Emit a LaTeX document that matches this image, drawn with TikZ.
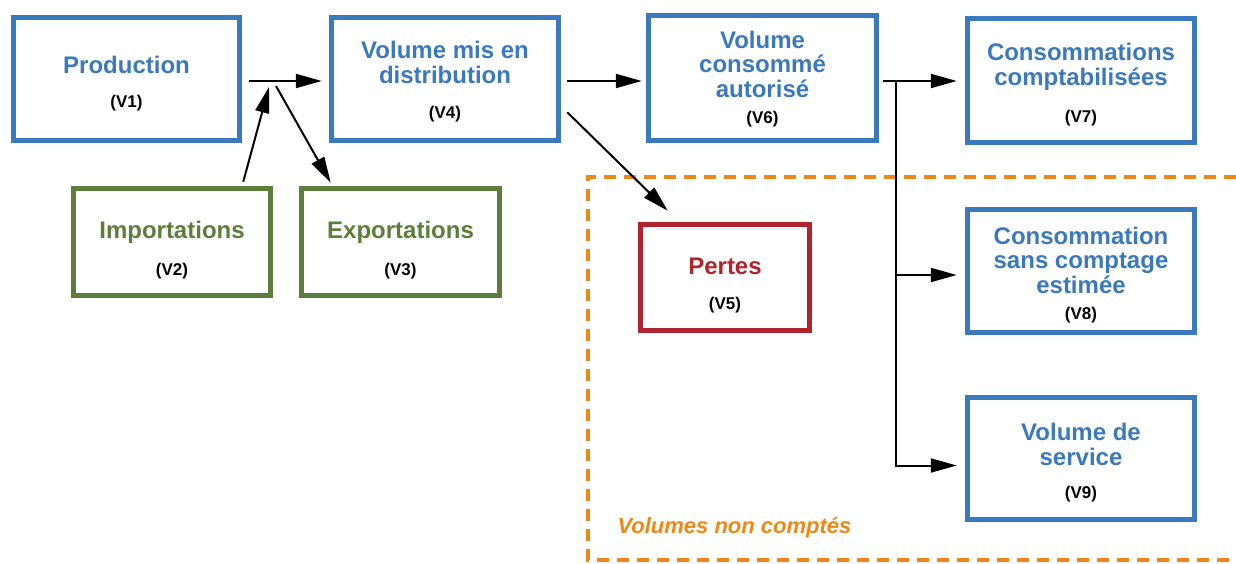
\documentclass[tikz,border=0pt]{standalone}
\usepackage{fontspec}
\setmainfont{Liberation Sans}
\usetikzlibrary{arrows.meta}

\definecolor{vblue}{RGB}{59,121,191}
\definecolor{vgreen}{RGB}{93,125,58}
\definecolor{vred}{RGB}{176,36,46}
\definecolor{vorange}{RGB}{240,135,20}

\newcommand{\labfont}{\fontsize{17}{19}\selectfont\bfseries\color{black}}
\newcommand{\vnum}[2][10pt]{\\[#1]{\labfont (#2)}}
% pushes the text of a box down by half of #1
\newcommand{\vpad}[1]{\rule{0pt}{\dimexpr 18pt+#1\relax}}

\tikzset{
  volbox/.style={draw, line width=5.5pt, align=center, inner sep=0pt,
    font=\fontsize{24}{24.5}\selectfont\bfseries},
  bluebox/.style={volbox, draw=vblue, text=vblue},
  greenbox/.style={volbox, draw=vgreen, text=vgreen},
  redbox/.style={volbox, draw=vred, text=vred},
  flow/.style={line width=2pt, -{Triangle[length=26pt,width=14pt]}},
}

\begin{document}
\begin{tikzpicture}[x=1pt, y=-1pt]
\useasboundingbox (0,0) rectangle (1236,563);

% Unaccounted volumes frame
\draw[vorange, line width=4pt, dash pattern=on 12pt off 8pt] (1236,177) -- (588,177) -- (588,560) -- (1236,560);
\node[font=\fontsize{22}{24}\selectfont\bfseries\itshape, text=vorange, anchor=west] (uncounted) at (614,528) {Volumes non comptés};

% Boxes
\node[bluebox, minimum width=226pt, minimum height=123pt] (v1) at (126.5,79) {\vpad{9pt}Production\vnum[9pt]{V1}};
\node[greenbox, minimum width=197pt, minimum height=107pt] (v2) at (172,242) {\vpad{16pt}Importations\vnum[12pt]{V2}};
\node[greenbox, minimum width=198pt, minimum height=107pt] (v3) at (400.5,242) {\vpad{16pt}Exportations\vnum[12pt]{V3}};
\node[bluebox, minimum width=227pt, minimum height=123pt] (v4) at (445,79) {\vpad{5pt}Volume mis en\\distribution\vnum[11pt]{V4}};
\node[redbox, minimum width=169pt, minimum height=106pt] (v5) at (725,277.5) {\vpad{15pt}Pertes\vnum{V5}};
\node[bluebox, minimum width=228pt, minimum height=125pt] (v6) at (762.5,78) {\vpad{2pt}Volume\\consommé\\autorisé\vnum[2pt]{V6}};
\node[bluebox, minimum width=227pt, minimum height=124pt] (v7) at (1081,80.5) {\vpad{8pt}Consommations\\comptabilisées\vnum[13pt]{V7}};
\node[bluebox, minimum width=227pt, minimum height=123pt] (v8) at (1081,271) {\vpad{8pt}Consommation\\sans comptage\\estimée\vnum[2pt]{V8}};
\node[bluebox, minimum width=227pt, minimum height=122pt] (v9) at (1081,458.5) {\vpad{8pt}Volume de\\service\vnum[9pt]{V9}};

% Flows
\coordinate (mixin) at (269,87);
\coordinate (mixout) at (276,86);
\coordinate (split) at (896,81);
\draw[flow, shorten <=7pt, shorten >=7pt] ([yshift=-2pt]v1.east) -- ([yshift=-2pt]v1.east -| v4.west);
\draw[flow] ([xshift=-30pt,yshift=4pt]v2.north east) -- (mixin);
\draw[flow] (mixout) -- ([xshift=32pt,yshift=3pt]v3.north west);
\draw[flow, shorten <=6pt, shorten >=4pt] ([yshift=-2pt]v4.east) -- ([yshift=-2pt]v4.east -| v6.west);
\draw[flow] ([xshift=6pt,yshift=31pt]v4.south east) -- ([xshift=30pt,yshift=11pt]v5.north west);
\draw[line width=2pt] ([xshift=4pt]v6.east |- split) -- (split);
\draw[flow] (split) -- ([xshift=-8pt]split -| v7.west);
\draw[flow] ([yshift=-4pt]split |- v8.west) -- ([xshift=-8pt,yshift=-4pt]v8.west);
\draw[flow] (split) |- ([xshift=-8pt,yshift=-7pt]v9.west);
\end{tikzpicture}
\end{document}
